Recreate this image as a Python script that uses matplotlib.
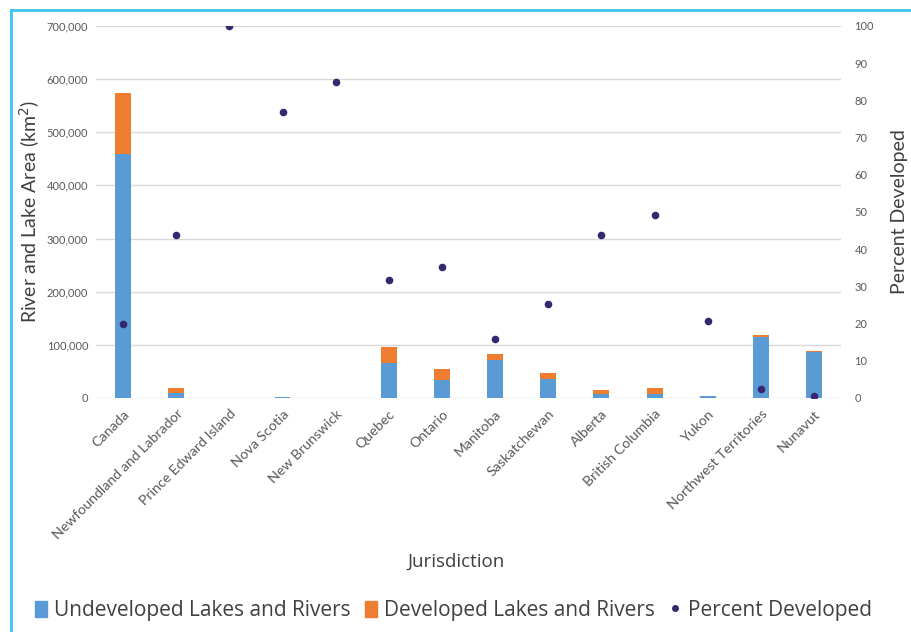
import matplotlib.pyplot as plt
from matplotlib.lines import Line2D
from matplotlib.patches import Patch
import numpy as np

plt.rcParams['font.family'] = ['Lato', 'DejaVu Sans']

# --- dados
jurisdicoes = ['Canada', 'Newfoundland and Labrador', 'Prince Edward Island',
               'Nova Scotia', 'New Brunswick', 'Quebec', 'Ontario', 'Manitoba',
               'Saskatchewan', 'Alberta', 'British Columbia', 'Yukon',
               'Northwest Territories', 'Nunavut']
nao_desenvolvido = [460000, 9000, 300, 1500, 300, 65000, 34000, 71500,
                    35000, 7000, 7000, 3000, 115400, 86000]
desenvolvido = [113000, 9000, 400, 700, 400, 31500, 20600, 10500,
                12600, 8000, 12400, 1000, 3200, 2400]
pct_desenvolvido = [19.8, 43.8, 100, 77, 85, 31.6, 35.3, 15.8,
                    25.2, 43.8, 49.2, 20.8, 2.4, 0.4]

azul = '#5b9bd5'
laranja = '#ed7d31'
roxo = '#35286e'
cinza_txt = '#595959'

fig = plt.figure(figsize=(9.12, 6.32), dpi=100)
ax = fig.add_axes([0.1058, 0.3703, 0.8159, 0.5886])
ax2 = ax.twinx()

x = np.arange(len(jurisdicoes))
ax.bar(x, nao_desenvolvido, width=0.3, color=azul, zorder=2)
ax.bar(x, desenvolvido, width=0.3, bottom=nao_desenvolvido, color=laranja, zorder=2)
ax2.scatter(x, pct_desenvolvido, s=20, color=roxo, zorder=3)

ax.set_xlim(-0.5, len(jurisdicoes) - 0.5)
ax.set_ylim(0, 700000)
ax2.set_ylim(0, 100)
ax.set_yticks(np.arange(0, 700001, 100000))
ax2.set_yticks(np.arange(0, 101, 10))
ax.set_yticklabels([f'{int(v):,}' for v in np.arange(0, 700001, 100000)])

ax.grid(axis='y', color='#d9d9d9', linewidth=1, zorder=0)
ax.set_axisbelow(True)
for a in (ax, ax2):
    for s in a.spines.values():
        s.set_visible(False)
    a.tick_params(length=0)

ax.tick_params(axis='y', labelsize=8, labelcolor=cinza_txt, pad=6)
ax2.tick_params(axis='y', labelsize=8, labelcolor=cinza_txt, pad=10)
ax.set_xticks(x)
ax.set_xticklabels(jurisdicoes, rotation=45, ha='right', rotation_mode='anchor',
                   fontsize=10.2, color=cinza_txt)
ax.tick_params(axis='x', pad=7)

ax.set_ylabel('River and Lake Area (km$^2$)', fontsize=14, color='#404040', labelpad=3)
ax2.set_ylabel('Percent Developed', fontsize=14, color='#404040', labelpad=12)
fig.text(0.5, 0.111, 'Jurisdiction', ha='center', va='center', fontsize=13.5,
         color='#404040', family='Open Sans')

# Legenda
handles = [Patch(color=azul), Patch(color=laranja),
           Line2D([], [], marker='o', linestyle='', color=roxo, markersize=4)]
labels = ['Undeveloped Lakes and Rivers', 'Developed Lakes and Rivers', 'Percent Developed']
fig.legend(handles, labels, loc='center', bbox_to_anchor=(0.497, 0.034), ncol=3,
           frameon=False, prop={'family': 'Open Sans', 'size': 15},
           handlelength=0.6, handleheight=0.8,
           handletextpad=0.3, columnspacing=0.7, labelcolor='#404040')

# moldura azul
fig.add_artist(Line2D([11 / 912, 11 / 912], [0, 1 - 10 / 632], color='#3cc4f0', linewidth=2))
fig.add_artist(Line2D([11 / 912, 1], [1 - 10 / 632, 1 - 10 / 632], color='#3cc4f0', linewidth=2))

fig.savefig('out.png', dpi=100)
